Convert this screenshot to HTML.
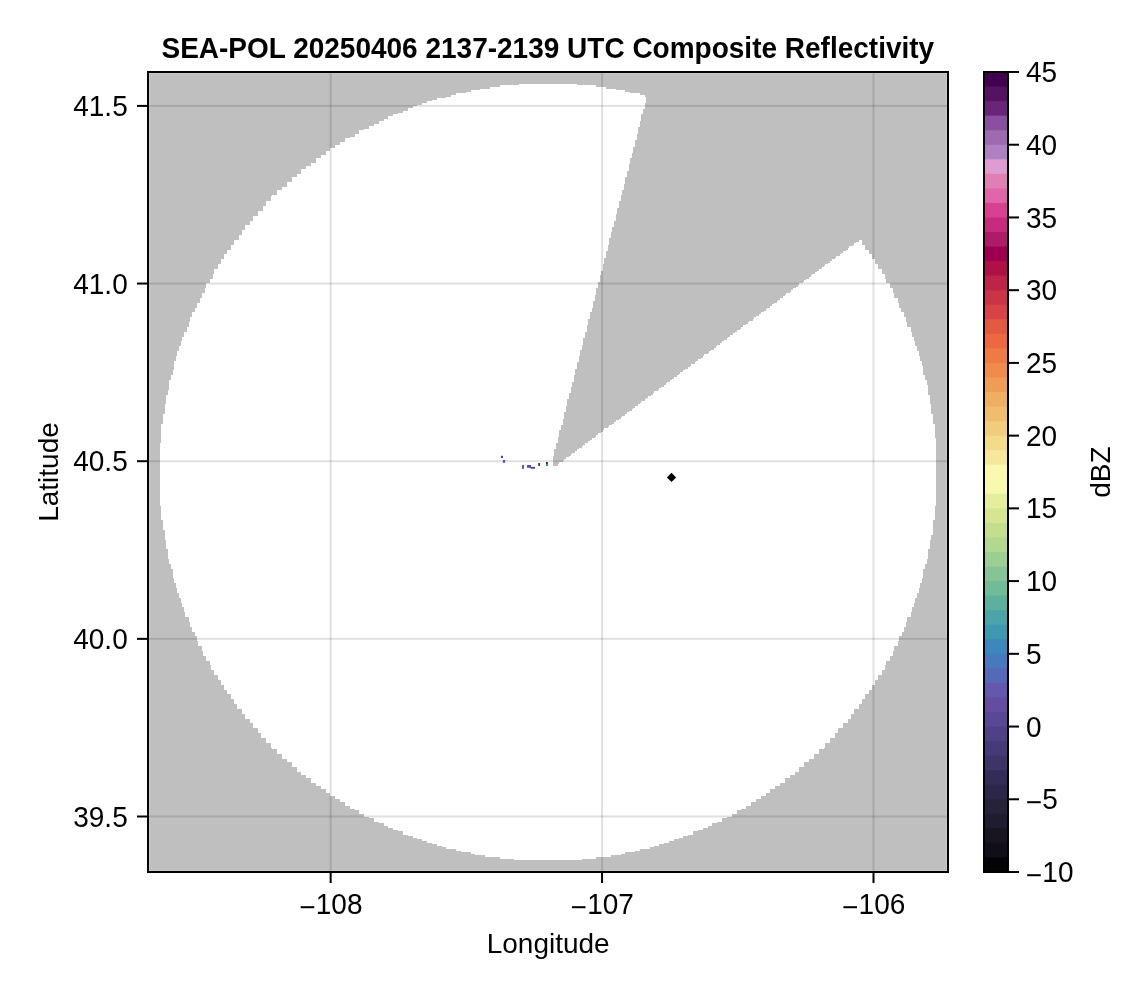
<!DOCTYPE html>
<html lang="en"><head><meta charset="utf-8"><title>SEA-POL Composite Reflectivity</title>
<style>html,body{margin:0;padding:0;background:#fff;}body{width:1146px;height:990px;overflow:hidden;}svg{display:block;}text{font-family:"Liberation Sans",sans-serif;fill:#000;}</style>
</head><body>
<svg width="1146" height="990" viewBox="0 0 1146 990">
<rect x="0" y="0" width="1146" height="990" fill="#ffffff"/>
<rect x="149.15" y="73.15" width="797.7" height="797.7" fill="#bfbfbf"/>
<path shape-rendering="crispEdges" fill="#ffffff" d="M519,84h58v1h-58zM500,85h96v2h-96zM490,87h116v2h-116zM480,89h136v1h-136zM471,90h154v2h-154zM466,92h164v1h-164zM456,93h184v2h-184zM451,95h194v2h-194zM446,97h200v1h-200zM437,98h209v2h-209zM432,100h214v1h-214zM427,101h219v2h-219zM422,103h223v2h-223zM417,105h228v1h-228zM413,106h232v2h-232zM408,108h237v1h-237zM408,109h235v2h-235zM403,111h240v2h-240zM398,113h245v1h-245zM393,114h248v2h-248zM388,116h253v3h-253zM384,119h257v2h-257zM379,121h261v3h-261zM374,124h266v2h-266zM369,126h271v1h-271zM369,127h269v2h-269zM364,129h274v1h-274zM359,130h279v4h-279zM355,134h282v3h-282zM350,137h287v1h-287zM345,138h292v2h-292zM345,140h290v2h-290zM340,142h295v3h-295zM335,145h300v2h-300zM335,147h298v1h-298zM330,148h303v3h-303zM326,151h307v2h-307zM326,153h306v2h-306zM321,155h311v3h-311zM316,158h314v5h-314zM311,163h319v1h-319zM311,164h318v2h-318zM306,166h323v3h-323zM301,169h328v2h-328zM301,171h326v3h-326zM297,174h330v3h-330zM292,177h333v5h-333zM287,182h338v2h-338zM287,184h337v3h-337zM282,187h342v3h-342zM277,190h345v5h-345zM272,195h349v1h-349zM271,196h350v5h-350zM266,201h353v5h-353zM263,206h356v2h-356zM263,208h354v3h-354zM258,211h359v3h-359zM258,214h358v2h-358zM253,216h363v5h-363zM250,221h364v4h-364zM245,225h369v2h-369zM245,227h367v3h-367zM242,230h370v2h-370zM242,232h369v3h-369zM239,235h372v3h-372zM239,238h370v2h-370zM234,240h375v2h-375zM859,240h3v2h-3zM234,242h375v1h-375zM856,242h6v1h-6zM234,243h375v2h-375zM854,243h8v2h-8zM231,245h377v1h-377zM853,245h12v1h-12zM231,246h377v2h-377zM849,246h16v2h-16zM231,248h377v2h-377zM848,248h17v2h-17zM227,250h381v1h-381zM846,250h23v1h-23zM227,251h379v2h-379zM843,251h26v2h-26zM227,253h379v1h-379zM841,253h28v1h-28zM224,254h382v2h-382zM840,254h32v2h-32zM224,256h382v2h-382zM836,256h36v2h-36zM224,258h380v1h-380zM835,258h37v1h-37zM221,259h383v2h-383zM832,259h43v2h-43zM221,261h383v2h-383zM830,261h45v2h-45zM221,263h383v1h-383zM828,263h47v1h-47zM218,264h385v2h-385zM825,264h53v2h-53zM218,266h385v1h-385zM824,266h54v1h-54zM218,267h385v2h-385zM822,267h56v2h-56zM214,269h389v2h-389zM819,269h63v2h-63zM214,271h387v1h-387zM817,271h65v1h-65zM214,272h387v2h-387zM815,272h67v2h-67zM213,274h388v1h-388zM812,274h73v1h-73zM213,275h387v2h-387zM811,275h74v2h-74zM213,277h387v2h-387zM809,277h76v2h-76zM210,279h390v1h-390zM806,279h80v1h-80zM210,280h390v2h-390zM804,280h82v2h-82zM210,282h388v1h-388zM803,282h83v1h-83zM206,283h392v2h-392zM799,283h91v2h-91zM206,285h392v2h-392zM798,285h92v2h-92zM206,287h392v1h-392zM796,287h94v1h-94zM205,288h391v2h-391zM793,288h100v2h-100zM205,290h391v2h-391zM791,290h102v2h-102zM205,292h391v1h-391zM790,292h103v1h-103zM202,293h394v2h-394zM786,293h108v2h-108zM202,295h393v1h-393zM785,295h109v1h-109zM202,296h393v2h-393zM783,296h111v2h-111zM200,298h395v2h-395zM780,298h118v2h-118zM200,300h395v1h-395zM778,300h120v1h-120zM200,301h393v2h-393zM777,301h121v2h-121zM197,303h396v1h-396zM774,303h125v1h-125zM197,304h396v2h-396zM772,304h127v2h-127zM197,306h396v2h-396zM770,306h129v2h-129zM195,308h397v1h-397zM767,308h134v1h-134zM195,309h397v2h-397zM766,309h135v2h-135zM195,311h397v1h-397zM764,311h137v1h-137zM192,312h398v2h-398zM761,312h143v2h-143zM192,314h398v2h-398zM759,314h145v2h-145zM192,316h398v1h-398zM756,316h148v1h-148zM190,317h400v2h-400zM754,317h152v2h-152zM190,319h398v2h-398zM753,319h153v2h-153zM190,321h398v1h-398zM749,321h157v1h-157zM189,322h399v2h-399zM748,322h159v2h-159zM189,324h399v1h-399zM746,324h161v1h-161zM189,325h398v2h-398zM743,325h164v2h-164zM187,327h400v2h-400zM741,327h170v2h-170zM187,329h400v1h-400zM740,329h171v1h-171zM187,330h400v2h-400zM737,330h174v2h-174zM184,332h401v1h-401zM735,332h177v1h-177zM184,333h401v2h-401zM733,333h179v2h-179zM184,335h401v2h-401zM730,335h182v2h-182zM182,337h403v1h-403zM728,337h186v1h-186zM182,338h401v2h-401zM727,338h187v2h-187zM182,340h401v1h-401zM724,340h190v1h-190zM181,341h402v2h-402zM722,341h193v2h-193zM181,343h402v2h-402zM720,343h195v2h-195zM181,345h401v1h-401zM717,345h198v1h-198zM179,346h403v2h-403zM716,346h201v2h-201zM179,348h403v2h-403zM714,348h203v2h-203zM179,350h401v1h-401zM711,350h206v1h-206zM177,351h403v2h-403zM709,351h210v2h-210zM177,353h403v1h-403zM708,353h211v1h-211zM177,354h403v2h-403zM704,354h215v2h-215zM176,356h403v2h-403zM703,356h217v2h-217zM176,358h403v1h-403zM701,358h219v1h-219zM176,359h403v2h-403zM698,359h222v2h-222zM174,361h405v1h-405zM696,361h226v1h-226zM174,362h403v2h-403zM695,362h227v2h-227zM174,364h403v2h-403zM691,364h231v2h-231zM174,366h403v1h-403zM690,366h233v1h-233zM174,367h403v2h-403zM688,367h235v2h-235zM174,369h401v1h-401zM685,369h238v1h-238zM173,370h402v2h-402zM683,370h240v2h-240zM173,372h402v2h-402zM680,372h243v2h-243zM173,374h402v1h-402zM679,374h244v1h-244zM171,375h403v2h-403zM677,375h248v2h-248zM171,377h403v2h-403zM674,377h251v2h-251zM171,379h403v1h-403zM672,379h253v1h-253zM169,380h405v2h-405zM670,380h257v2h-257zM169,382h403v1h-403zM667,382h260v1h-260zM169,383h403v2h-403zM666,383h261v2h-261zM169,385h403v2h-403zM664,385h264v2h-264zM169,387h402v1h-402zM661,387h267v1h-267zM169,388h402v2h-402zM659,388h269v2h-269zM168,390h403v1h-403zM658,390h270v1h-270zM168,391h403v2h-403zM654,391h274v2h-274zM168,393h401v2h-401zM653,393h275v2h-275zM166,395h403v1h-403zM651,395h279v1h-279zM166,396h403v2h-403zM648,396h282v2h-282zM166,398h403v1h-403zM646,398h284v1h-284zM166,399h401v2h-401zM645,399h285v2h-285zM166,401h401v2h-401zM641,401h289v2h-289zM166,403h401v1h-401zM640,403h290v1h-290zM165,404h402v2h-402zM638,404h293v2h-293zM165,406h401v2h-401zM635,406h296v2h-296zM165,408h401v1h-401zM633,408h298v1h-298zM165,409h401v2h-401zM632,409h299v2h-299zM165,411h401v1h-401zM629,411h302v1h-302zM165,412h399v2h-399zM627,412h304v2h-304zM163,414h401v2h-401zM625,414h308v2h-308zM163,416h401v1h-401zM622,416h311v1h-311zM163,417h401v2h-401zM621,417h312v2h-312zM163,419h400v1h-400zM619,419h314v1h-314zM163,420h400v2h-400zM616,420h317v2h-317zM163,422h400v2h-400zM614,422h319v2h-319zM161,424h402v1h-402zM612,424h323v1h-323zM161,425h400v2h-400zM609,425h326v2h-326zM161,427h400v1h-400zM608,427h327v1h-327zM161,428h400v2h-400zM604,428h331v2h-331zM161,430h398v2h-398zM603,430h332v2h-332zM161,432h398v1h-398zM601,432h334v1h-334zM161,433h398v2h-398zM598,433h337v2h-337zM161,435h398v2h-398zM596,435h339v2h-339zM161,437h397v1h-397zM595,437h340v1h-340zM161,438h397v2h-397zM592,438h344v2h-344zM161,440h397v1h-397zM590,440h346v1h-346zM161,441h397v2h-397zM588,441h348v2h-348zM160,443h396v2h-396zM585,443h351v2h-351zM160,445h396v1h-396zM583,445h353v1h-353zM160,446h396v2h-396zM582,446h354v2h-354zM160,448h396v1h-396zM579,448h357v1h-357zM160,449h394v2h-394zM577,449h359v2h-359zM160,451h394v2h-394zM575,451h361v2h-361zM160,453h394v1h-394zM572,453h364v1h-364zM160,454h394v2h-394zM571,454h365v2h-365zM160,456h393v1h-393zM569,456h367v1h-367zM160,457h393v2h-393zM566,457h370v2h-370zM160,459h393v2h-393zM564,459h372v2h-372zM160,461h393v1h-393zM563,461h373v1h-373zM160,462h393v2h-393zM559,462h377v2h-377zM160,464h393v2h-393zM558,464h378v2h-378zM160,466h776v40h-776zM161,506h774v14h-774zM163,520h770v10h-770zM165,530h768v5h-768zM165,535h766v5h-766zM166,540h764v9h-764zM168,549h760v10h-760zM169,559h758v5h-758zM171,564h754v5h-754zM173,569h750v9h-750zM174,578h748v5h-748zM176,583h744v5h-744zM177,588h742v5h-742zM179,593h738v5h-738zM181,598h734v5h-734zM182,603h732v4h-732zM184,607h728v5h-728zM185,612h726v5h-726zM189,617h718v5h-718zM190,622h716v5h-716zM192,627h712v5h-712zM195,632h707v4h-707zM197,636h702v5h-702zM198,641h700v5h-700zM202,646h692v5h-692zM203,651h690v5h-690zM206,656h684v5h-684zM210,661h676v4h-676zM211,665h674v5h-674zM214,670h668v5h-668zM218,675h660v5h-660zM221,680h654v5h-654zM224,685h648v5h-648zM227,690h642v4h-642zM231,694h634v5h-634zM234,699h628v5h-628zM237,704h622v5h-622zM242,709h612v5h-612zM245,714h606v5h-606zM250,719h598v4h-598zM253,723h590v5h-590zM258,728h580v5h-580zM261,733h574v5h-574zM266,738h564v5h-564zM271,743h554v5h-554zM272,748h552v1h-552zM277,749h542v5h-542zM282,754h532v5h-532zM287,759h522v3h-522zM292,762h512v5h-512zM297,767h502v5h-502zM301,772h494v3h-494zM306,775h484v3h-484zM311,778h474v5h-474zM316,783h464v3h-464zM321,786h454v3h-454zM326,789h444v4h-444zM330,793h436v3h-436zM335,796h426v3h-426zM340,799h416v3h-416zM345,802h406v4h-406zM350,806h396v3h-396zM355,809h386v1h-386zM359,810h378v4h-378zM364,814h368v3h-368zM369,817h358v1h-358zM374,818h348v4h-348zM379,822h338v1h-338zM384,823h328v3h-328zM388,826h320v2h-320zM393,828h310v2h-310zM398,830h300v1h-300zM403,831h290v4h-290zM408,835h280v1h-280zM413,836h270v2h-270zM417,838h262v1h-262zM422,839h252v2h-252zM427,841h242v2h-242zM432,843h232v1h-232zM437,844h222v2h-222zM442,846h212v1h-212zM446,847h204v2h-204zM456,849h184v2h-184zM461,851h174v1h-174zM471,852h154v2h-154zM475,854h146v1h-146zM485,855h126v2h-126zM500,857h96v2h-96zM514,859h68v1h-68z"/>
<rect x="500.9" y="455.8" width="2.1" height="2.2" fill="#4c48a6"/>
<rect x="502.9" y="459.9" width="2.2" height="2.9" fill="#5464b6"/>
<rect x="522.0" y="465.0" width="1.9" height="3.8" fill="#5c4aa0"/>
<rect x="527.05" y="465.0" width="4.0" height="2.8" fill="#5c4aa0"/>
<rect x="530.6" y="466.9" width="4.46" height="1.9" fill="#56469c"/>
<rect x="538.2" y="463.0" width="1.9" height="2.9" fill="#40366c"/>
<rect x="546.0" y="462.0" width="1.9" height="2.1" fill="#362e5c"/>
<rect x="546.0" y="464.0" width="2.1" height="2.0" fill="#3C88BC"/>
<rect x="329.65" y="72" width="2" height="800" fill="#000" fill-opacity="0.12"/>
<rect x="601.07" y="72" width="2" height="800" fill="#000" fill-opacity="0.12"/>
<rect x="872.5" y="72" width="2" height="800" fill="#000" fill-opacity="0.12"/>
<rect x="148" y="104.9" width="800" height="2" fill="#000" fill-opacity="0.12"/>
<rect x="148" y="282.55" width="800" height="2" fill="#000" fill-opacity="0.12"/>
<rect x="148" y="460.2" width="800" height="2" fill="#000" fill-opacity="0.12"/>
<rect x="148" y="637.85" width="800" height="2" fill="#000" fill-opacity="0.12"/>
<rect x="148" y="815.5" width="800" height="2" fill="#000" fill-opacity="0.12"/>
<path d="M671.5,472.79999999999995 L676.1,477.4 L671.5,482.0 L666.9,477.4 Z" fill="#000"/>
<rect x="148" y="72" width="800" height="800" fill="none" stroke="#000" stroke-width="2"/>
<rect x="329.65" y="873" width="2" height="10" fill="#000"/>
<text transform="translate(330.95,914.1) scale(1,1.03)" font-size="28" text-anchor="middle"><tspan dy="3">−</tspan><tspan dy="-3">108</tspan></text>
<rect x="601.07" y="873" width="2" height="10" fill="#000"/>
<text transform="translate(602.37,914.1) scale(1,1.03)" font-size="28" text-anchor="middle"><tspan dy="3">−</tspan><tspan dy="-3">107</tspan></text>
<rect x="872.5" y="873" width="2" height="10" fill="#000"/>
<text transform="translate(873.8,914.1) scale(1,1.03)" font-size="28" text-anchor="middle"><tspan dy="3">−</tspan><tspan dy="-3">106</tspan></text>
<rect x="137" y="104.9" width="10" height="2" fill="#000"/>
<text transform="translate(127.7,116.15) scale(1,1.03)" font-size="28" text-anchor="end">41.5</text>
<rect x="137" y="282.55" width="10" height="2" fill="#000"/>
<text transform="translate(127.7,293.8) scale(1,1.03)" font-size="28" text-anchor="end">41.0</text>
<rect x="137" y="460.2" width="10" height="2" fill="#000"/>
<text transform="translate(127.7,471.45) scale(1,1.03)" font-size="28" text-anchor="end">40.5</text>
<rect x="137" y="637.85" width="10" height="2" fill="#000"/>
<text transform="translate(127.7,649.1) scale(1,1.03)" font-size="28" text-anchor="end">40.0</text>
<rect x="137" y="815.5" width="10" height="2" fill="#000"/>
<text transform="translate(127.7,826.75) scale(1,1.03)" font-size="28" text-anchor="end">39.5</text>
<text transform="translate(547.8,57.8) scale(1,1.035)" font-size="28" font-weight="bold" text-anchor="middle">SEA-POL 20250406 2137-2139 UTC Composite Reflectivity</text>
<text transform="translate(548.2,952.9) scale(1,1.005)" font-size="28" text-anchor="middle">Longitude</text>
<text transform="translate(57.9,472) rotate(-90) scale(1,1.005)" font-size="28" text-anchor="middle">Latitude</text>
<rect x="984" y="72.000" width="24" height="800.000" fill="#40004F"/>
<rect x="984" y="86.545" width="24" height="785.455" fill="#551260"/>
<rect x="984" y="101.091" width="24" height="770.909" fill="#6A2578"/>
<rect x="984" y="115.636" width="24" height="756.364" fill="#8B4F9F"/>
<rect x="984" y="130.182" width="24" height="741.818" fill="#9C6BB0"/>
<rect x="984" y="144.727" width="24" height="727.273" fill="#AE82C2"/>
<rect x="984" y="159.273" width="24" height="712.727" fill="#DE9CD0"/>
<rect x="984" y="173.818" width="24" height="698.182" fill="#E07FB3"/>
<rect x="984" y="188.364" width="24" height="683.636" fill="#E066A8"/>
<rect x="984" y="202.909" width="24" height="669.091" fill="#D84090"/>
<rect x="984" y="217.455" width="24" height="654.545" fill="#C72C7C"/>
<rect x="984" y="232.000" width="24" height="640.000" fill="#AE1C68"/>
<rect x="984" y="246.545" width="24" height="625.455" fill="#9E0050"/>
<rect x="984" y="261.091" width="24" height="610.909" fill="#AF1045"/>
<rect x="984" y="275.636" width="24" height="596.364" fill="#BE2448"/>
<rect x="984" y="290.182" width="24" height="581.818" fill="#C93547"/>
<rect x="984" y="304.727" width="24" height="567.273" fill="#D64448"/>
<rect x="984" y="319.273" width="24" height="552.727" fill="#E25A40"/>
<rect x="984" y="333.818" width="24" height="538.182" fill="#EB6840"/>
<rect x="984" y="348.364" width="24" height="523.636" fill="#EE7B45"/>
<rect x="984" y="362.909" width="24" height="509.091" fill="#EF8C4C"/>
<rect x="984" y="377.455" width="24" height="494.545" fill="#EE9C56"/>
<rect x="984" y="392.000" width="24" height="480.000" fill="#EFAE62"/>
<rect x="984" y="406.545" width="24" height="465.455" fill="#F0BC6E"/>
<rect x="984" y="421.091" width="24" height="450.909" fill="#F0CC7C"/>
<rect x="984" y="435.636" width="24" height="436.364" fill="#F2DC8C"/>
<rect x="984" y="450.182" width="24" height="421.818" fill="#F5E89C"/>
<rect x="984" y="464.727" width="24" height="407.273" fill="#FBF8B0"/>
<rect x="984" y="479.273" width="24" height="392.727" fill="#F8F8B0"/>
<rect x="984" y="493.818" width="24" height="378.182" fill="#E4EE9C"/>
<rect x="984" y="508.364" width="24" height="363.636" fill="#D6E690"/>
<rect x="984" y="522.909" width="24" height="349.091" fill="#C4DE8E"/>
<rect x="984" y="537.455" width="24" height="334.545" fill="#B2D890"/>
<rect x="984" y="552.000" width="24" height="320.000" fill="#9CCE94"/>
<rect x="984" y="566.545" width="24" height="305.455" fill="#86C498"/>
<rect x="984" y="581.091" width="24" height="290.909" fill="#70BC98"/>
<rect x="984" y="595.636" width="24" height="276.364" fill="#5CB09C"/>
<rect x="984" y="610.182" width="24" height="261.818" fill="#4CA4A8"/>
<rect x="984" y="624.727" width="24" height="247.273" fill="#3E98B0"/>
<rect x="984" y="639.273" width="24" height="232.727" fill="#3C88BC"/>
<rect x="984" y="653.818" width="24" height="218.182" fill="#4878BE"/>
<rect x="984" y="668.364" width="24" height="203.636" fill="#5668B8"/>
<rect x="984" y="682.909" width="24" height="189.091" fill="#6458AE"/>
<rect x="984" y="697.455" width="24" height="174.545" fill="#644CA0"/>
<rect x="984" y="712.000" width="24" height="160.000" fill="#5A4896"/>
<rect x="984" y="726.545" width="24" height="145.455" fill="#504088"/>
<rect x="984" y="741.091" width="24" height="130.909" fill="#463A78"/>
<rect x="984" y="755.636" width="24" height="116.364" fill="#3E3468"/>
<rect x="984" y="770.182" width="24" height="101.818" fill="#342C58"/>
<rect x="984" y="784.727" width="24" height="87.273" fill="#2C2648"/>
<rect x="984" y="799.273" width="24" height="72.727" fill="#26223A"/>
<rect x="984" y="813.818" width="24" height="58.182" fill="#201C30"/>
<rect x="984" y="828.364" width="24" height="43.636" fill="#181420"/>
<rect x="984" y="842.909" width="24" height="29.091" fill="#100E16"/>
<rect x="984" y="857.455" width="24" height="14.545" fill="#040306"/>
<rect x="984" y="72" width="24" height="800" fill="none" stroke="#000" stroke-width="2"/>
<rect x="1009" y="871.000" width="10" height="2" fill="#000"/>
<text transform="translate(1026.0,882.1) scale(1,1.03)" font-size="28"><tspan dy="3">−</tspan><tspan dy="-3">10</tspan></text>
<rect x="1009" y="798.273" width="10" height="2" fill="#000"/>
<text transform="translate(1026.0,809.37) scale(1,1.03)" font-size="28"><tspan dy="3">−</tspan><tspan dy="-3">5</tspan></text>
<rect x="1009" y="725.545" width="10" height="2" fill="#000"/>
<text transform="translate(1026.0,736.65) scale(1,1.03)" font-size="28">0</text>
<rect x="1009" y="652.818" width="10" height="2" fill="#000"/>
<text transform="translate(1026.0,663.92) scale(1,1.03)" font-size="28">5</text>
<rect x="1009" y="580.091" width="10" height="2" fill="#000"/>
<text transform="translate(1026.0,591.19) scale(1,1.03)" font-size="28">10</text>
<rect x="1009" y="507.364" width="10" height="2" fill="#000"/>
<text transform="translate(1026.0,518.46) scale(1,1.03)" font-size="28">15</text>
<rect x="1009" y="434.636" width="10" height="2" fill="#000"/>
<text transform="translate(1026.0,445.74) scale(1,1.03)" font-size="28">20</text>
<rect x="1009" y="361.909" width="10" height="2" fill="#000"/>
<text transform="translate(1026.0,373.01) scale(1,1.03)" font-size="28">25</text>
<rect x="1009" y="289.182" width="10" height="2" fill="#000"/>
<text transform="translate(1026.0,300.28) scale(1,1.03)" font-size="28">30</text>
<rect x="1009" y="216.455" width="10" height="2" fill="#000"/>
<text transform="translate(1026.0,227.55) scale(1,1.03)" font-size="28">35</text>
<rect x="1009" y="143.727" width="10" height="2" fill="#000"/>
<text transform="translate(1026.0,154.83) scale(1,1.03)" font-size="28">40</text>
<rect x="1009" y="71.000" width="10" height="2" fill="#000"/>
<text transform="translate(1026.0,82.1) scale(1,1.03)" font-size="28">45</text>
<text transform="translate(1110,472.1) rotate(-90) scale(1,1.02)" font-size="28" text-anchor="middle">dBZ</text>
</svg></body></html>
